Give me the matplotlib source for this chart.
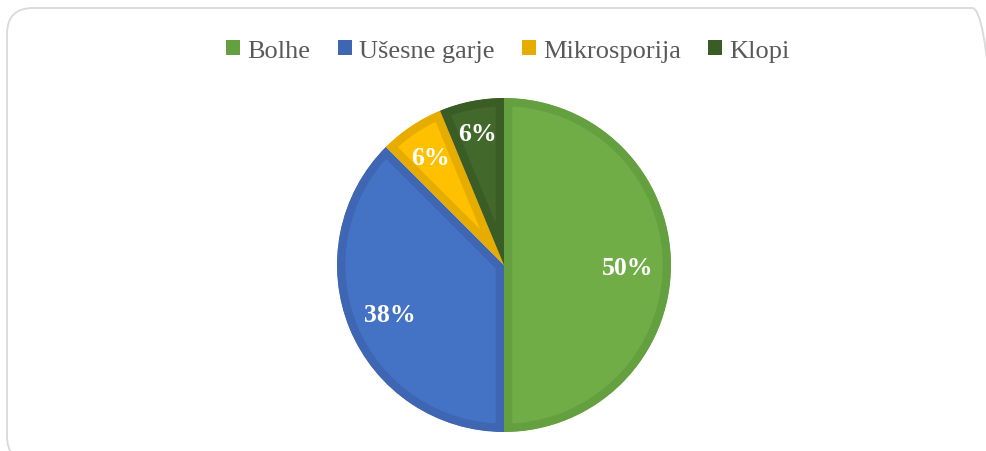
import numpy as np
import matplotlib
matplotlib.use("Agg")
import matplotlib.pyplot as plt
from matplotlib.patches import Patch, FancyBboxPatch
from matplotlib.transforms import IdentityTransform

# data
categories = ["Bolhe", "Ušesne garje", "Mikrosporija", "Klopi"]
counts = [8, 6, 1, 1]

# styling
fill_colors = ["#70AD47", "#4472C4", "#FFC000", "#43682B"]
edge_colors = ["#64A03F", "#3E66B3", "#E6AD00", "#3A5C25"]
label_dist = [0.74, 0.74, 0.79, 0.82]

plt.rcParams['font.family'] = ['Liberation Serif', 'DejaVu Serif']

W, H = 986, 452
fig = plt.figure(figsize=(W / 100, H / 100), dpi=100)
fig.patch.set_facecolor("white")

# rounded chart-area border in pixel coords (runs off the right/bottom edge)
frame = FancyBboxPatch((7, H - 463), 991, 454,
                       boxstyle="round,pad=0,rounding_size=26",
                       transform=IdentityTransform(), facecolor="none",
                       edgecolor="#D9D9D9", linewidth=1.3)
fig.patches.append(frame)

# pie axes: centre (504, 266) px, radius 167 px
cx, cy, r = 504, 266, 167
ax = fig.add_axes([(cx - r) / W, (H - cy - r) / H, 2 * r / W, 2 * r / H])
wedges, _ = ax.pie(counts, colors=fill_colors, startangle=90, counterclock=False,
                   radius=1.0)
ax.set_xlim(-1, 1)
ax.set_ylim(-1, 1)
ax.set_aspect("equal")
ax.axis("off")

# inner border: thick stroke clipped to the wedge itself
for w, ec in zip(wedges, edge_colors):
    w.set_edgecolor(ec)
    w.set_linewidth(12)
    w.set_joinstyle("miter")
    w.set_clip_path(w)
    w.set_clip_on(True)

total = sum(counts)
for w, c, d in zip(wedges, counts, label_dist):
    ang = np.deg2rad((w.theta1 + w.theta2) / 2)
    ax.text(d * np.cos(ang), d * np.sin(ang), f"{100 * c / total:.0f}%",
            ha="center", va="center_baseline", color="white", fontsize=18.5,
            fontweight="bold")

handles = [Patch(facecolor=ec, edgecolor=ec, linewidth=0) for ec in edge_colors]
fig.legend(handles, categories, loc="center", bbox_to_anchor=(508 / W, 1 - 52 / H),
           ncol=4, frameon=False, fontsize=19, labelcolor="#595959",
           handlelength=0.52, handleheight=0.52, handletextpad=0.27,
           columnspacing=1.05, borderpad=0, borderaxespad=0)

fig.savefig("out.png", dpi=100, facecolor="white")
